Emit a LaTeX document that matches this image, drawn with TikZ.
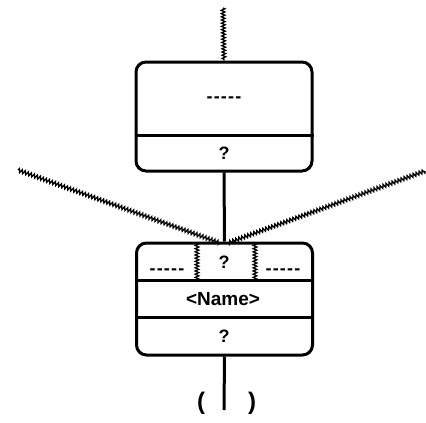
\documentclass[tikz,border=0pt]{standalone}
\usepackage{fontspec}
\setmainfont{Liberation Sans}
\usetikzlibrary{decorations.pathmorphing}
\tikzset{
  frame/.style = {draw, line width=3pt, rounded corners=10pt,
                  minimum width=176pt, inner sep=0pt},
  wire/.style  = {draw, line width=3pt},
  wavy/.style  = {draw, line width=1.3pt, decorate,
                  decoration={zigzag, amplitude=1.8pt, segment length=3.2pt}},
  tag/.style   = {font=\bfseries\fontsize{18}{18}\selectfont, inner sep=0pt},
  paren/.style = {font=\bfseries\fontsize{24}{24}\selectfont, inner sep=0pt}
}
% a row of short dashes
\newcommand{\dashrow}{-\kern1.2pt-\kern1.2pt-\kern1.2pt-\kern1.2pt-}

\begin{document}
\begin{tikzpicture}[x=1pt, y=-1pt]
    \useasboundingbox (0,0) rectangle (426,423);

    % the two boxes
    \node [frame, minimum height=109pt] (upper) at (224,116.5) {};
    \node [frame, minimum height=112pt] (lower) at (224.5,299) {};

    % row dividers
    \draw [wire] (upper.west |- 0,135) -- (upper.east |- 0,135);
    \draw [wire] (lower.west |- 0,280) -- (lower.east |- 0,280);
    \draw [wire] (lower.west |- 0,317) -- (lower.east |- 0,317);
    \draw [wavy] (197,243) -- (197,280);
    \draw [wavy] (255,243) -- (255,280);

    % texts
    \node [tag] (updash)  at (224,100) {\dashrow};
    \node [tag] (upq)     at (224,153) {?};
    \node [tag] (lowq)    at (224,262) {?};
    \node [tag] (ldash)   at (167,272) {\dashrow};
    \node [tag] (rdash)   at (283,272) {\dashrow};
    \node [tag, font=\bfseries\fontsize{19}{19}\selectfont] (name) at (223,299) {<Name>};
    \node [tag] (bottomq) at (224,336) {?};

    % connectors
    \coordinate (topend)   at (223,8);
    \coordinate (leftend)  at (18,170);
    \coordinate (rightend) at (425,171);
    \coordinate (leftin)   at (220,243);
    \coordinate (rightin)  at (228,243);
    \coordinate (tailend)  at (224,410);
    \draw [wavy] (topend) -- (upper.north);
    \draw [wavy] (leftend) -- (leftin);
    \draw [wavy] (rightend) -- (rightin);
    \draw [wire] (upper.south) -- (lower.north);
    \draw [wire] (lower.south) -- (tailend);

    \node [paren] (lparen) at (201,403) {(};
    \node [paren] (rparen) at (252,403) {)};
\end{tikzpicture}
\end{document}
